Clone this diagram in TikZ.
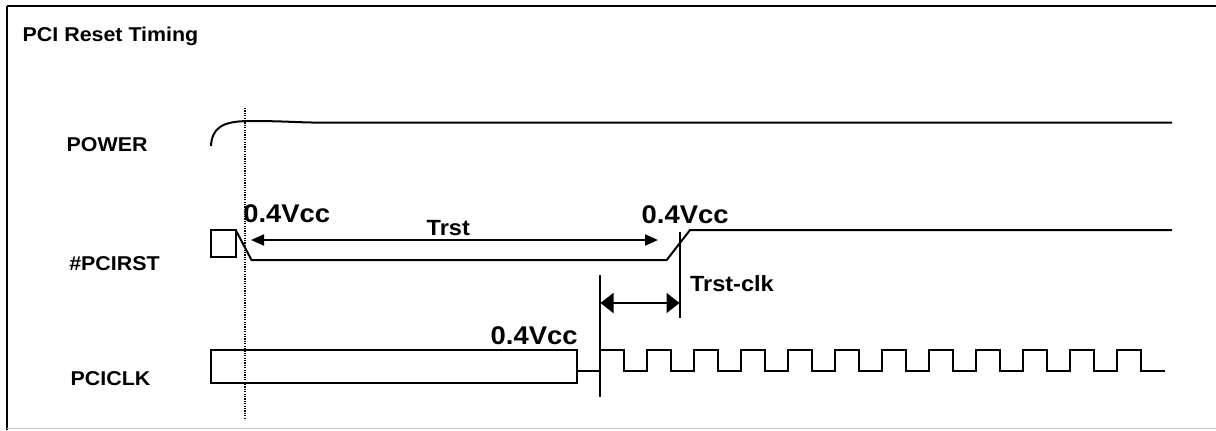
\documentclass[tikz,border=0pt]{standalone}
\usepackage{fontspec}
\usepackage{tikz}
\usepackage{xcolor}
\usetikzlibrary{positioning,arrows.meta,calc}
\newfontfamily\diagfont{Liberation Sans}[FakeStretch=1.07]
\definecolor{framegray}{HTML}{C8C8C8}

\begin{document}
\begin{tikzpicture}[
    x=0.5pt, y=-0.5pt,
    every node/.style={inner sep=0pt, outer sep=0pt, anchor=base west},
    title/.style={font=\diagfont\bfseries\fontsize{10pt}{12pt}\selectfont},
    signame/.style={font=\diagfont\bfseries\fontsize{10pt}{12pt}\selectfont},
    level/.style={font=\diagfont\bfseries\fontsize{12.8pt}{15pt}\selectfont},
    tlabel/.style={font=\diagfont\bfseries\fontsize{11pt}{13pt}\selectfont},
    sig/.style={line width=1pt, line join=miter},
    marker/.style={line width=0.9pt},
    guide/.style={line width=0.65pt, dash pattern=on 0.6pt off 0.6pt},
    tarr/.style={{Triangle[length=6.5pt,width=5.5pt]}-{Triangle[length=6.5pt,width=5.5pt]}, line width=1pt},
    carr/.style={{Triangle[length=6.5pt,width=10pt]}-{Triangle[length=6.5pt,width=10pt]}, line width=1pt}
  ]
  \useasboundingbox (0,0) rectangle (1216,430);
  \draw[line width=1.2pt] (7,6) -- (1216,6);
  \draw[line width=0.7pt] (7,6) -- (7,430);
  \draw[framegray, line width=0.8pt] (7,428.5) -- (1216,428.5);

  \node[title]   (title)  at (22.7,41.3) {PCI Reset Timing};
  \node[signame] (power)  at (66.7,151.7) {POWER};
  \node[signame] (pcirst) at (69.3,270) {\#PCIRST};
  \node[signame] (pciclk) at (70.7,385) {PCICLK};

  \coordinate (pwr0) at (211,146);
  \coordinate (pwr1) at (1172,122.5);
  \draw[sig] (pwr0) .. controls (212,128) and (222,121) .. (250,121) .. controls (290,121) and (300,123) .. (330,122.5) -- (pwr1);

  \draw[guide] (245,108) -- (245,420);

  \draw[sig] (210.7,230) rectangle (235.7,256.7);
  \draw[sig] (235.7,230) -- (251.5,260) -- (666.7,260) -- (690,230) -- (1172,230);

  \coordinate (trstL) at (251,240);
  \coordinate (trstR) at (658,240);
  \draw[tarr] (trstL) -- (trstR);

  \coordinate (rsthi) at (680,232);
  \coordinate (rstlo) at (680,318);
  \coordinate (clktop) at (600,275);
  \coordinate (clkbot) at (600,397);
  \draw[marker] (rsthi) -- (rstlo);
  \draw[marker] (clktop) -- (clkbot);
  \coordinate (tcL) at (600.5,303);
  \coordinate (tcR) at (679.5,303);
  \draw[carr] (tcL) -- (tcR);

  \node[level]  (vcc1)    at (243.3,222.3) {0.4Vcc};
  \node[level]  (vcc2)    at (641.7,223.3) {0.4Vcc};
  \node[level]  (vcc3)    at (490.7,344.3) {0.4Vcc};
  \node[tlabel] (trst)    at (426.7,235) {Trst};
  \node[tlabel] (trstclk) at (690,291.7) {Trst-clk};

  \draw[sig] (210.7,350) rectangle (577,383);
  \draw[sig] (577,370.7) -- (600,370.7);
  \draw[sig] (600,350) \foreach \k in {1,...,11} { -| ++(23.5,20.7) -| ++(23.5,-20.7) } -| ++(23.5,20.7) -- ++(24,0);
\end{tikzpicture}
\end{document}
